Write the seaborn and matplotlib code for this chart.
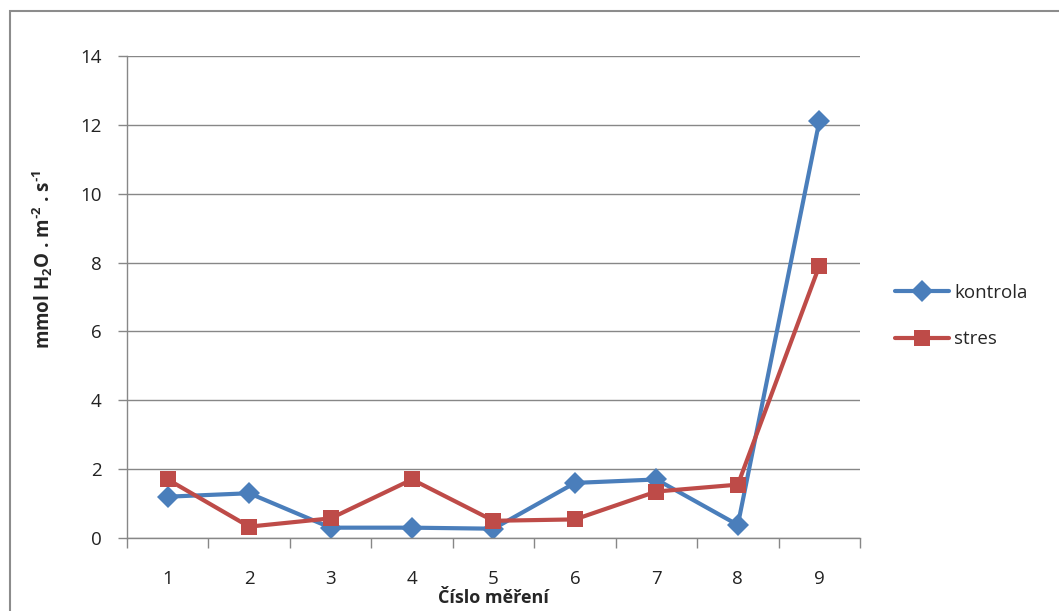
import matplotlib
matplotlib.use("Agg")
import matplotlib.pyplot as plt
from matplotlib.patches import Rectangle
import seaborn as sns
import pandas as pd

# Measurement numbers and transpiration values (mmol H2O . m-2 . s-1)
mereni = [1, 2, 3, 4, 5, 6, 7, 8, 9]
kontrola = [1.2, 1.3, 0.3, 0.3, 0.27, 1.6, 1.7, 0.38, 12.1]
stres = [1.7, 0.33, 0.57, 1.7, 0.5, 0.54, 1.35, 1.55, 7.9]
series_names = ["kontrola", "stres"]
y_ticks = [0, 2, 4, 6, 8, 10, 12, 14]

df = pd.DataFrame({
    "mereni": mereni * 2,
    "hodnota": kontrola + stres,
    "serie": [series_names[0]] * len(mereni) + [series_names[1]] * len(mereni),
})

sns.set_theme(style="white")
plt.rcParams["font.family"] = ["Open Sans", "DejaVu Sans"]
plt.rcParams["mathtext.fontset"] = "custom"
plt.rcParams["mathtext.rm"] = "Open Sans"
plt.rcParams["mathtext.bf"] = "Open Sans:bold"

fig = plt.figure(figsize=(10.59, 6.11), dpi=100)
ax = fig.add_axes([127 / 1059, 1 - 538 / 611, (860 - 127) / 1059, (538 - 56) / 611])

# Outer chart frame
fig.patches.append(Rectangle((10 / 1059, -0.05), 1.1, 1 - 11 / 611 + 0.05,
                             transform=fig.transFigure, fill=False,
                             edgecolor="#8c8c8c", linewidth=1.5, zorder=0))

palette = {"kontrola": "#4A7EBB", "stres": "#BE4B48"}
sns.lineplot(data=df, x="mereni", y="hodnota", hue="serie", style="serie",
             markers={"kontrola": "D", "stres": "s"}, dashes=False,
             palette=palette, linewidth=3, markersize=11, markeredgewidth=0,
             ax=ax)

ax.set_xlim(0.5, 9.5)
ax.set_ylim(0, 14)
ax.set_yticks(y_ticks)
ax.set_xticks(mereni)
ax.set_xticklabels([str(m) for m in mereni])

grid_c = "#878787"
ax.yaxis.grid(True, color=grid_c, linewidth=1)
ax.set_axisbelow(True)
for side in ["top", "right"]:
    ax.spines[side].set_visible(False)
ax.spines["left"].set_color(grid_c)
ax.spines["bottom"].set_color(grid_c)
ax.spines["left"].set_linewidth(1)
ax.spines["bottom"].set_linewidth(1)

# Category boundary tick marks on the x axis
ax.set_xticks([m + 0.5 for m in [0] + mereni], minor=True)
ax.tick_params(axis="x", which="major", length=0, pad=23, labelsize=13.5, colors="#222222")
ax.tick_params(axis="x", which="minor", bottom=True, length=7, width=1, color=grid_c)
ax.tick_params(axis="y", left=True, length=6.5, width=1, color=grid_c, pad=12,
               labelsize=13.5, labelcolor="#222222")

ax.set_xlabel("Číslo měření", fontsize=13, fontweight="bold")
ax.xaxis.set_label_coords(0.5, -0.106)
ax.set_ylabel("mmol H$_\\mathbf{2}$O . m$^\\mathbf{\u20102}$ . s$^\\mathbf{\u20101}$",
              fontsize=13.5, fontweight="bold")
ax.yaxis.set_label_coords(-0.098, 0.577)

ax.legend(title=None, frameon=False, loc="center left",
          bbox_to_anchor=(878 / 1059, 1 - 316 / 611), bbox_transform=fig.transFigure,
          fontsize=13.5, handlelength=2.9, handletextpad=0.25, labelspacing=1.5)

fig.savefig("out.png", dpi=100, facecolor="white")
